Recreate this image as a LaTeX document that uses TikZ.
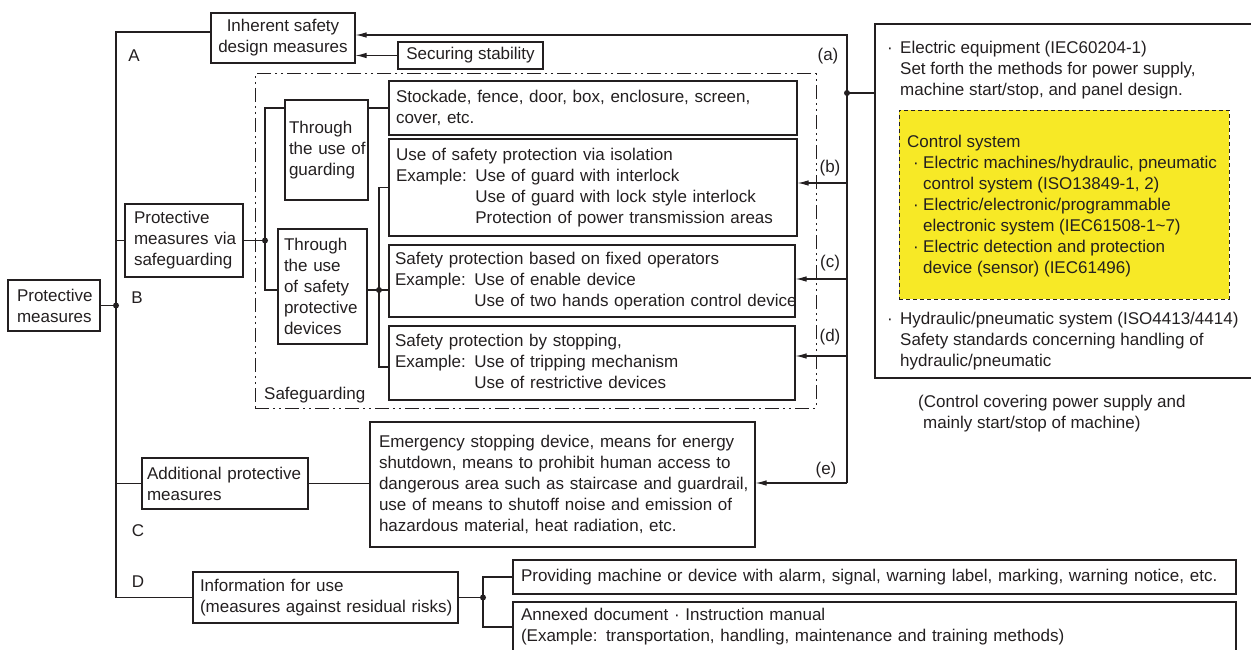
\documentclass[tikz,border=0pt]{standalone}
\usepackage{fontspec}
\setmainfont{Liberation Sans}
\usetikzlibrary{arrows.meta}
\definecolor{ink}{RGB}{35,31,32}
\definecolor{yel}{RGB}{247,233,38}
\newcommand\lbx[1]{\mbox{#1}}
\newcommand\exx{\phantom{Example: }}
\begin{document}
\begin{tikzpicture}[x=1pt,y=-1pt,
  every node/.style={font=\fontsize{17pt}{21pt}\selectfont, text=ink, inner ysep=0pt},
  box/.style={draw=ink, line width=1.1pt, align=left},
  cbox/.style={draw=ink, line width=1.1pt, align=center, inner xsep=4pt},
  ln/.style={draw=ink, line width=1.1pt},
  arr/.style={draw=ink, line width=1.1pt, -{Latex[length=11pt,width=5.5pt]}},
  jdot/.style={circle, fill=ink, inner sep=0pt, minimum size=6pt},
  lbl/.style={inner sep=0pt},
  txt/.style={inner sep=0pt, anchor=base west, align=left},
  sg/.style={draw=ink, line width=1pt, dash pattern=on 14pt off 4pt on 2pt off 4pt on 2pt off 4pt},
]
\useasboundingbox (0,0) rectangle (1251,650);

% ---- boxes ----
\node[box, minimum width=92pt, minimum height=51pt, inner xsep=9pt, text width=74pt] (pm) at (54,305.5) {\lbx{Protective}\\\lbx{measures}};
\node[box, minimum width=118pt, minimum height=73pt, inner xsep=9pt, text width=100pt] (pmvs) at (184,240.5) {\lbx{Protective}\\\lbx{measures via}\\\lbx{safeguarding}};
\node[cbox, minimum width=144pt, minimum height=50pt] (inh) at (283,38) {Inherent safety\\design measures};
\node[cbox, minimum width=145pt, minimum height=27pt] (sec) at (470.5,55.5) {Securing stability};

\node[sg, minimum width=561pt, minimum height=334pt] (sgbox) at (535.5,241) {};
\node[txt] (sglbl) at (264,399) {Safeguarding};

\node[box, minimum width=83pt, minimum height=100pt, inner xsep=4pt, text width=75pt] (guard) at (326.5,150) {\lbx{Through}\\\lbx{the use of}\\\lbx{guarding}};
\node[box, minimum width=89pt, minimum height=115pt, inner xsep=6pt, text width=77pt] (spd) at (322.5,286.5) {\lbx{Through}\\\lbx{the use}\\\lbx{of safety}\\\lbx{protective}\\\lbx{devices}};

\node[box, minimum width=408pt, minimum height=54pt, inner xsep=7pt, text width=394pt] (stock) at (593,108) {\lbx{Stockade, fence, door, box, enclosure, screen,}\\\lbx{cover, etc.}};
\node[box, minimum width=408pt, minimum height=97pt, inner xsep=7pt, text width=394pt] (iso) at (593,187.5) {\lbx{Use of safety protection via isolation}\\\lbx{Example: Use of guard with interlock}\\\lbx{\exx Use of guard with lock style interlock}\\\lbx{\exx Protection of power transmission areas}};
\node[box, minimum width=406pt, minimum height=72pt, inner xsep=6pt, text width=394pt] (fixed) at (592,281) {\lbx{Safety protection based on fixed operators}\\\lbx{Example: Use of enable device}\\\lbx{\exx Use of two hands operation control device}};
\node[box, minimum width=406pt, minimum height=74pt, inner xsep=6pt, text width=394pt] (stop) at (592,363) {\lbx{Safety protection by stopping,}\\\lbx{Example: Use of tripping mechanism}\\\lbx{\exx Use of restrictive devices}};

\node[box, minimum width=166pt, minimum height=51pt, inner xsep=5pt, text width=156pt] (add) at (225,483.5) {\lbx{Additional protective}\\\lbx{measures}};
\node[box, minimum width=385pt, minimum height=125pt, inner xsep=9pt, text width=367pt] (emerg) at (562.5,484.5) {\lbx{Emergency stopping device, means for energy}\\\lbx{shutdown, means to prohibit human access to}\\\lbx{dangerous area such as staircase and guardrail,}\\\lbx{use of means to shutoff noise and emission of}\\\lbx{hazardous material, heat radiation, etc.}};

\node[box, minimum width=265pt, minimum height=51pt, inner xsep=7pt, text width=251pt] (info) at (325.5,597.5) {\lbx{Information for use}\\\lbx{(measures against residual risks)}};
\node[box, minimum width=723pt, minimum height=34pt, inner xsep=8pt, text width=707pt] (prov) at (874.5,577) {\lbx{Providing machine or device with alarm, signal, warning label, marking, warning notice, etc.}};
\node[box, minimum width=723pt, minimum height=50pt, inner xsep=8pt, text width=707pt] (annex) at (874.5,627) {\lbx{Annexed document · Instruction manual}\\\lbx{(Example: transportation, handling, maintenance and training methods)}};

% ---- right panel ----
\node[draw=ink, line width=1.1pt, minimum width=387pt, minimum height=354pt, inner sep=0pt] (rbox) at (1068.5,201) {};
\node[draw=ink, line width=0.8pt, dash pattern=on 4pt off 3pt, fill=yel, minimum width=330pt, minimum height=189pt, inner sep=0pt] (yelbox) at (1064,204.5) {};
\node[txt] (rt1) at (887,96) {\makebox[13pt][l]{·}Electric equipment (IEC60204-1)\\\hspace*{13pt}Set forth the methods for power supply,\\\hspace*{13pt}machine start/stop, and panel design.};
\node[txt] (cs) at (907,273) {Control system\\\makebox[16pt][l]{\hspace{6pt}·}Electric machines/hydraulic, pneumatic\\\hspace*{16pt}control system (ISO13849-1, 2)\\\makebox[16pt][l]{\hspace{6pt}·}Electric/electronic/programmable\\\hspace*{16pt}electronic system (IEC61508-1\textasciitilde 7)\\\makebox[16pt][l]{\hspace{6pt}·}Electric detection and protection\\\hspace*{16pt}device (sensor) (IEC61496)};
\node[txt] (hy) at (887,366) {\makebox[13pt][l]{·}Hydraulic/pneumatic system (ISO4413/4414)\\\hspace*{13pt}Safety standards concerning handling of\\\hspace*{13pt}hydraulic/pneumatic};
\node[txt] (note) at (918,428) {(Control covering power supply and\\\hspace*{5pt}mainly start/stop of machine)};

% ---- labels ----
\node[lbl] (lA) at (134,56) {A};
\node[lbl] (lB) at (137,298) {B};
\node[lbl] (lC) at (138,531) {C};
\node[lbl] (lD) at (138,582) {D};
\node[lbl] (la) at (828,56) {(a)};
\node[lbl] (lb) at (830,168) {(b)};
\node[lbl] (lc) at (830,263) {(c)};
\node[lbl] (ld) at (830,337) {(d)};
\node[lbl] (le) at (826,470) {(e)};

% ---- connectors ----
\coordinate (trunk) at (116,0);
\draw[ln] ([yshift=6pt]inh.west) -| (trunk |- info.west) -- (info.west);
\node[jdot] (d1) at (pm.east -| trunk) {};
\draw[ln] (pm.east) -- (d1.center);
\draw[ln] (trunk |- pmvs.west) -- (pmvs.west);
\draw[ln] (trunk |- add.west) -- (add.west);
\draw[ln] (add.east) -- (add.east -| emerg.west);

\coordinate (j1) at (265,240.5);
\node[jdot] (d2) at (j1) {};
\draw[ln] (pmvs.east) -- (j1);
\draw[ln] (stock.west) -- (stock.west -| guard.east);
\draw[ln] (guard.west |- stock.west) -| (j1);
\coordinate (spdw) at ([yshift=-3.5pt]spd.west);
\draw[ln] (j1) |- (spdw);

\coordinate (j2) at (379,290);
\node[jdot] (d3) at (j2) {};
\draw[ln] (j2 -| spd.east) -- (j2) -- (j2 -| fixed.west);
\coordinate (stopw) at ([yshift=-4pt]stop.west);
\draw[ln] (iso.west) -| (j2) |- (stopw);

\coordinate (j3) at (483,597.5);
\node[jdot] (d4) at (j3) {};
\draw[ln] (info.east) -- (j3);
\draw[ln] (prov.west) -| (j3) |- (annex.west);

\coordinate (rt) at (847,35);
\coordinate (rb) at (847,483);
\draw[arr] (rb) -- (rt) -- (rt -| inh.east);
\draw[arr] (sec.west) -- (sec.west -| inh.east);
\coordinate (bt) at ([yshift=4.5pt]iso.east);
\draw[arr] (bt -| rt) -- (bt);
\coordinate (ct) at ([yshift=2pt]fixed.east);
\draw[arr] (ct -| rt) -- (ct);
\coordinate (dt) at ([yshift=7pt]stop.east);
\draw[arr] (dt -| rt) -- (dt);
\draw[arr] (rb) -- (rb -| emerg.east);

\coordinate (ja) at (847,93);
\node[jdot] (d5) at (ja) {};
\draw[ln] (ja) -- (ja -| rbox.west);
\end{tikzpicture}
\end{document}
